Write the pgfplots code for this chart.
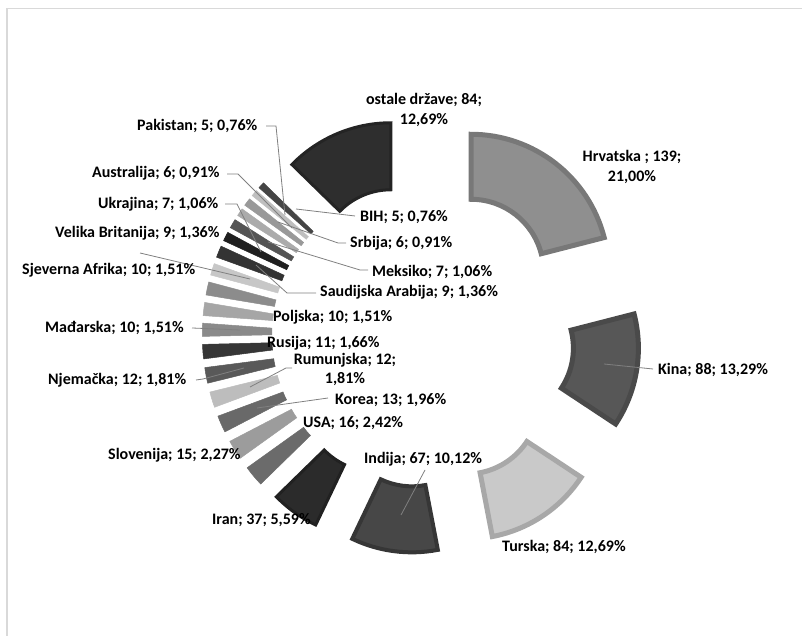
\documentclass[border=0pt]{standalone}
\usepackage{pgfplots}
\usepackage{pgfplotstable}
\pgfplotsset{compat=1.18}
\usepackage{fontspec}
\setmainfont{Carlito}[BoldFont={Carlito Bold}]

\pgfplotstableread[col sep=comma]{
name,value,fp,bp,bw
Hrvatska,139,44,53,5
Kina,88,66,71,5
Turska,84,21,34,5
Indija,67,72,79,4
Iran,37,83,87,3
USA,16,58,58,0.5
Slovenija,15,39,39,0.5
Korea,13,59,59,0.5
Rumunjska,12,26,26,0.5
Njemačka,12,65,65,0.5
Rusija,11,79,79,0.5
Mađarska,10,46,46,0.5
Poljska,10,35,35,0.5
Sjeverna Afrika,10,45,45,0.5
Saudijska Arabija,9,22,22,0.5
Velika Britanija,9,80,80,0.5
Meksiko,7,88,88,0.5
Ukrajina,7,67,67,0.5
Srbija,6,33,33,0.5
Australija,6,40,40,0.5
BIH,5,25,25,0.5
Pakistan,5,73,73,0.5
ostale države,84,82,86,3
}\data

\tikzset{lbl/.style={font=\fontsize{16}{19.5}\selectfont\bfseries, inner sep=0pt, text=black}}

\begin{document}
\begin{tikzpicture}
\useasboundingbox (0,0) rectangle (802pt,636pt);
\pgfplotstablegetrowsof{\data}\pgfmathtruncatemacro\nlast{\pgfplotsretval-1}
\def\total{0}
\pgfplotsforeachungrouped \i in {0,...,\nlast}{%
  \pgfplotstablegetelem{\i}{value}\of\data
  \pgfmathsetmacro\total{\total+\pgfplotsretval}}
\begin{axis}[
  at={(0,0)}, anchor=south west,
  scale only axis, width=802pt, height=636pt,
  xmin=-422, xmax=380, ymin=-301, ymax=335,
  hide axis, clip=false,
]
\def\cum{0}
\pgfplotsforeachungrouped \i in {0,...,\nlast}{%
  \pgfplotstablegetelem{\i}{value}\of\data \let\v\pgfplotsretval
  \pgfplotstablegetelem{\i}{fp}\of\data \let\fp\pgfplotsretval
  \pgfplotstablegetelem{\i}{bp}\of\data \let\bp\pgfplotsretval
  \pgfplotstablegetelem{\i}{bw}\of\data \let\bw\pgfplotsretval
  \pgfmathsetmacro\tA{\cum/\total*360}
  \pgfmathsetmacro\cum{\cum+\v}
  \pgfmathsetmacro\tB{\cum/\total*360}
  \pgfmathsetmacro\pA{90-\tA}
  \pgfmathsetmacro\pB{90-\tB}
  \pgfmathsetmacro\pM{(\pA+\pB)/2}
  \pgfmathsetmacro\ro{140-\bw/2}
  \pgfmathsetmacro\ri{70+\bw/2}
  \pgfmathsetmacro\ox{80*cos(\pM)}
  \pgfmathsetmacro\oy{80*sin(\pM)}
  \pgfmathsetmacro\xA{\ox+\ro*cos(\pA)}
  \pgfmathsetmacro\yA{\oy+\ro*sin(\pA)}
  \pgfmathsetmacro\xB{\ox+\ri*cos(\pB)}
  \pgfmathsetmacro\yB{\oy+\ri*sin(\pB)}
  \edef\temp{\noexpand\filldraw[fill=black!\fp, draw=black!\bp, line width=\bw pt, line join=miter]
    (axis cs:\xA,\yA) arc[start angle=\pA, end angle=\pB, radius=\ro pt]
    -- (axis cs:\xB,\yB) arc[start angle=\pB, end angle=\pA, radius=\ri pt] -- cycle;}%
  \temp
}
% frame
\draw[black!15, line width=1.5pt] (axis cs:-415,-301) -- (axis cs:-415,326.5) -- (axis cs:380,326.5);
% leader lines
\begin{scope}[black!50, line width=0.8pt]
\draw (axis cs:182,-29) -- (axis cs:231,-34);
\draw (axis cs:3,-135) -- (axis cs:-21,-180);
\draw (axis cs:-94,-63) -- (axis cs:-165,-73);
\draw (axis cs:-130,-33) -- (axis cs:-136,-33) -- (axis cs:-172,-52);
\draw (axis cs:-226,-45) -- (axis cs:-219,-44) -- (axis cs:-178,-33);
\draw (axis cs:-230,7) -- (axis cs:-182,5);
\draw (axis cs:-282,82) -- (axis cs:-172,56);
\draw (axis cs:-106,42) -- (axis cs:-135,42) -- (axis cs:-166,70);
\draw (axis cs:-54,65) -- (axis cs:-62,65) -- (axis cs:-154,93);
\draw (axis cs:-197,131) -- (axis cs:-185,131) -- (axis cs:-161,83);
\draw (axis cs:-76,92) -- (axis cs:-84,92) -- (axis cs:-144,113);
\draw (axis cs:-195,161) -- (axis cs:-184,161) -- (axis cs:-130,107);
\draw (axis cs:-67,119) -- (axis cs:-126,126);
\draw (axis cs:-156,209) -- (axis cs:-146,209) -- (axis cs:-137,120);
\end{scope}
% labels
\node[lbl, align=center] at (axis cs:2,225) {ostale države; 84;\\12,69\%};
\node[lbl, align=center] at (axis cs:210,168) {Hrvatska ; 139;\\21,00\%};
\node[lbl, anchor=base west] at (axis cs:236,-40) {Kina; 88; 13,29\%};
\node[lbl, anchor=base west] at (axis cs:80,-217) {Turska; 84; 12,69\%};
\node[lbl, anchor=base west] at (axis cs:-58,-129) {Indija; 67; 10,12\%};
\node[lbl, anchor=base west] at (axis cs:-210,-190) {Iran; 37; 5,59\%};
\node[lbl, anchor=base west] at (axis cs:-119,-93) {USA; 16; 2,42\%};
\node[lbl, anchor=base west] at (axis cs:-314,-125) {Slovenija; 15; 2,27\%};
\node[lbl, anchor=base west] at (axis cs:-87,-70) {Korea; 13; 1,96\%};
\node[lbl, align=center] at (axis cs:-77,-34.5) {Rumunjska; 12;\\1,81\%};
\node[lbl, anchor=base west] at (axis cs:-374,-50) {Njemačka; 12; 1,81\%};
\node[lbl, anchor=base west] at (axis cs:-155,-13) {Rusija; 11; 1,66\%};
\node[lbl, anchor=base west] at (axis cs:-377,2) {Mađarska; 10; 1,51\%};
\node[lbl, anchor=base west] at (axis cs:-149,13) {Poljska; 10; 1,51\%};
\node[lbl, anchor=base west] at (axis cs:-400,60) {Sjeverna Afrika; 10; 1,51\%};
\node[lbl, anchor=base west] at (axis cs:-102,38) {Saudijska Arabija; 9; 1,36\%};
\node[lbl, anchor=base west] at (axis cs:-367,97) {Velika Britanija; 9; 1,36\%};
\node[lbl, anchor=base west] at (axis cs:-50,58) {Meksiko; 7; 1,06\%};
\node[lbl, anchor=base west] at (axis cs:-324,126) {Ukrajina; 7; 1,06\%};
\node[lbl, anchor=base west] at (axis cs:-72,87) {Srbija; 6; 0,91\%};
\node[lbl, anchor=base west] at (axis cs:-330,157) {Australija; 6; 0,91\%};
\node[lbl, anchor=base west] at (axis cs:-62,113) {BIH; 5; 0,76\%};
\node[lbl, anchor=base west] at (axis cs:-285,204) {Pakistan; 5; 0,76\%};
\end{axis}
\end{tikzpicture}
\end{document}
